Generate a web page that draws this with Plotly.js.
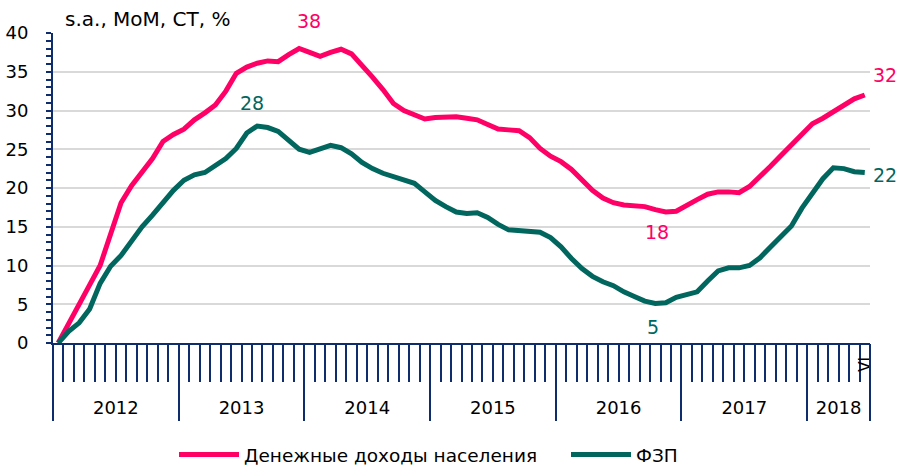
<!DOCTYPE html>
<html>
<head>
<meta charset="utf-8">
<script src="https://cdn.plot.ly/plotly-3.0.1.min.js"></script>
<style>html,body{margin:0;padding:0;background:#fff}#chart{width:898px;height:467px}</style>
</head>
<body>
<div id="chart"></div>
<script>
// ---- data ----
const years = ['2012','2013','2014','2015','2016','2017','2018'];
const monthsInYear = [12,12,12,12,12,12,6];
const monthNames = ['I','II','III','IV','V','VI','VII','VIII','IX','X','XI','XII'];
const seriesNames = ['Денежные доходы населения', 'ФЗП'];

const incomes = [
  0, 2.6, 5.1, 7.5, 10.0, 14.3, 18.1, 20.3, 22.1, 23.8, 26.0, 26.9,
  27.6, 28.8, 29.7, 30.7, 32.5, 34.8, 35.6, 36.1, 36.4, 36.3, 37.2, 38.0,
  37.5, 37.0, 37.5, 37.9, 37.3, 35.9, 34.3, 32.7, 30.9, 30.0, 29.4, 28.9,
  29.1, 29.2, 29.2, 29.0, 28.8, 28.2, 27.6, 27.5, 27.4, 26.5, 25.1, 24.1,
  23.4, 22.4, 21.0, 19.7, 18.7, 18.1, 17.8, 17.7, 17.6, 17.2, 16.9, 17.0,
  17.8, 18.5, 19.2, 19.5, 19.5, 19.4, 20.2, 21.4, 22.8, 24.2, 25.6, 27.0,
  28.3, 29.0, 29.8, 30.6, 31.5, 32.0
];
const wageFund = [
  0, 1.5, 2.6, 4.4, 7.7, 9.9, 11.3, 13.2, 15.0, 16.5, 18.2, 19.7,
  21.0, 21.7, 22.0, 22.9, 23.8, 25.1, 27.1, 28.0, 27.8, 27.3, 26.2, 25.0,
  24.6, 25.1, 25.5, 25.2, 24.4, 23.3, 22.5, 21.9, 21.5, 21.1, 20.6, 19.5,
  18.4, 17.6, 16.9, 16.7, 16.8, 16.2, 15.3, 14.6, 14.5, 14.5, 14.3, 13.6,
  12.4, 10.9, 9.6, 8.6, 7.9, 7.4, 6.6, 6.0, 5.4, 5.1, 5.2, 5.9,
  6.2, 6.6, 8.0, 9.3, 9.7, 9.7, 10.0, 11.0, 12.4, 13.7, 15.1, 17.4,
  19.4, 21.2, 22.6, 22.5, 22.1, 22.0
];
const incomeLabelIdx = [23, 57, 77];
const incomeLabelText = ['38', '18', '32'];
const wageLabelIdx = [19, 57, 77];
const wageLabelText = ['28', '5', '22'];
const unitsText = 's.a., MoM, CT, %';

// ---- derived ----
const categories = [];
const tickText = [];
years.forEach((y, yi) => {
  for (let m = 0; m < monthsInYear[yi]; m++) {
    categories.push(y + '-' + monthNames[m]);
    tickText.push('');
  }
});
const lastIdx = categories.length - 1;
tickText[lastIdx] = categories[lastIdx].split('-')[1];

const yearBounds = [-0.5];
const yearCenters = [];
let acc = 0;
monthsInYear.forEach(n => { yearCenters.push(acc + (n - 1) / 2); acc += n; yearBounds.push(acc - 0.5); });

const PINK = '#FF0066', GREEN = '#00665E', NAVY = '#0F2C6C';
const FONT = 'DejaVu Sans, Verdana, sans-serif';

const traces = [
  {x: categories, y: incomes, name: seriesNames[0], type: 'scatter', mode: 'lines',
   line: {color: PINK, width: 5}, hoverinfo: 'skip'},
  {x: categories, y: wageFund, name: seriesNames[1], type: 'scatter', mode: 'lines',
   line: {color: GREEN, width: 5}, hoverinfo: 'skip'},
  // invisible helpers so the year-separator and year-label axes get drawn
  {x: yearBounds, y: yearBounds.map(() => 0), xaxis: 'x2', type: 'scatter', mode: 'markers',
   marker: {opacity: 0}, showlegend: false, hoverinfo: 'skip'},
  {x: yearCenters, y: yearCenters.map(() => 0), xaxis: 'x3', type: 'scatter', mode: 'markers',
   marker: {opacity: 0}, showlegend: false, hoverinfo: 'skip'}
];

const annotations = [];
const shifts = {
  '38': [10, 28], '18': [2, -22], '32': [20, 20],
  '28': [-5, 23], '5': [-2, -24], '22': [20, -2]
};
incomeLabelIdx.forEach((idx, k) => {
  const t = incomeLabelText[k];
  annotations.push({x: categories[idx], y: incomes[idx], xref: 'x', yref: 'y', text: t,
    showarrow: false, xshift: shifts[t][0], yshift: shifts[t][1],
    font: {family: FONT, size: 19, color: PINK}});
});
wageLabelIdx.forEach((idx, k) => {
  const t = wageLabelText[k];
  annotations.push({x: categories[idx], y: wageFund[idx], xref: 'x', yref: 'y', text: t,
    showarrow: false, xshift: shifts[t][0], yshift: shifts[t][1],
    font: {family: FONT, size: 19, color: GREEN}});
});

const layout = {
  width: 898, height: 467,
  margin: {l: 53, r: 28, t: 33, b: 124},
  paper_bgcolor: '#fff', plot_bgcolor: '#fff',
  font: {family: FONT, size: 17, color: '#000'},
  showlegend: true,
  title: {text: unitsText, xref: 'container', yref: 'container', x: 65/898, xanchor: 'left',
          y: 1 - 19/467, yanchor: 'middle', font: {family: FONT, size: 20, color: '#000'}},
  legend: {orientation: 'h', xref: 'container', yref: 'container', x: 174/898, xanchor: 'left',
           y: 12/467, yanchor: 'middle', font: {family: FONT, size: 18.5, color: '#000'},
           itemwidth: 60, entrywidth: 317, traceorder: 'normal'},
  xaxis: {type: 'category', categoryorder: 'array', categoryarray: categories,
          range: [-0.5, lastIdx + 0.5], tickmode: 'array', tickvals: categories, ticktext: tickText,
          tickson: 'boundaries', ticks: 'outside', ticklen: 37, tickwidth: 2, tickcolor: NAVY,
          tickangle: -90, ticklabelstandoff: 6,
          showline: true, linecolor: NAVY, linewidth: 2, showgrid: false, zeroline: false,
          tickfont: {family: FONT, size: 15, color: '#000'}, fixedrange: true},
  xaxis2: {type: 'linear', overlaying: 'x', anchor: 'y', side: 'bottom', range: [-0.5, lastIdx + 0.5],
           tickmode: 'array', tickvals: yearBounds, ticks: 'outside', ticklen: 77, tickwidth: 2,
           tickcolor: NAVY, showticklabels: false, showgrid: false, zeroline: false, showline: false},
  xaxis3: {type: 'linear', overlaying: 'x', anchor: 'y', side: 'bottom', range: [-0.5, lastIdx + 0.5],
           tickmode: 'array', tickvals: yearCenters, ticktext: years, ticks: '',
           ticklabelstandoff: 52, showgrid: false, zeroline: false, showline: false,
           tickfont: {family: FONT, size: 18, color: '#000'}},
  yaxis: {range: [0, 40], tickmode: 'linear', tick0: 0, dtick: 5, ticks: 'outside', ticklen: 5,
          tickwidth: 2, tickcolor: NAVY, showline: true, linecolor: NAVY, linewidth: 2,
          showgrid: true, gridcolor: '#D9D9D9', gridwidth: 2, zeroline: false,
          ticklabelstandoff: 14, tickfont: {family: FONT, size: 18, color: '#000'},
          minor: {dtick: 1, ticks: 'outside', ticklen: 5, tickwidth: 2, tickcolor: NAVY, showgrid: false},
          fixedrange: true},
  annotations: annotations
};

Plotly.newPlot('chart', traces, layout, {staticPlot: true, displayModeBar: false});
</script>
</body>
</html>
